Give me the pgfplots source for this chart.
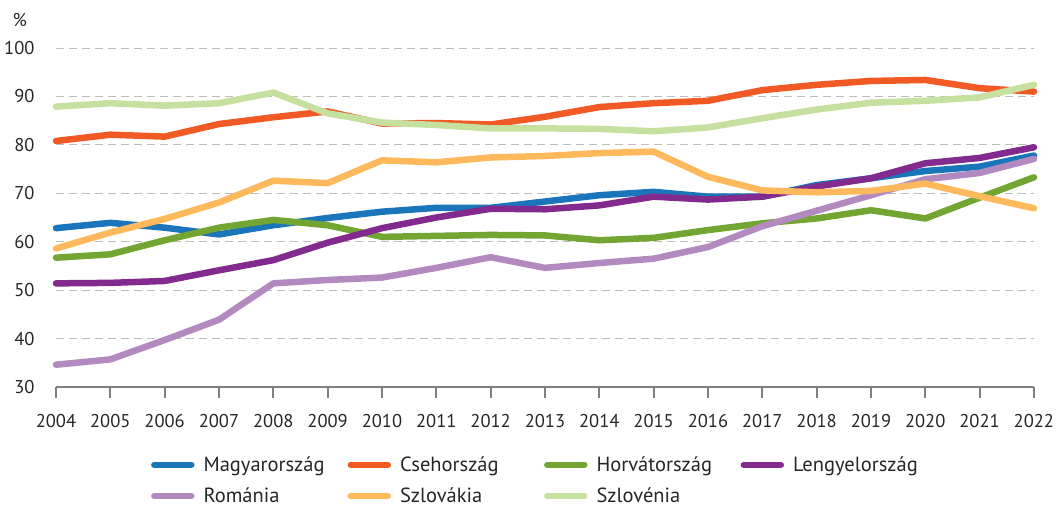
\documentclass[border=0pt]{standalone}
\usepackage{pgfplots}
\pgfplotsset{compat=1.18}
\usepackage{fontspec}
\setmainfont{PT Sans}
\definecolor{cHU}{HTML}{1A75BB}
\definecolor{cCZ}{HTML}{F15A24}
\definecolor{cHR}{HTML}{72A532}
\definecolor{cPL}{HTML}{822A8E}
\definecolor{cRO}{HTML}{B38AC0}
\definecolor{cSK}{HTML}{FDB95B}
\definecolor{cSI}{HTML}{C6E0A0}
\definecolor{gridc}{HTML}{BDBDBD}
\definecolor{axc}{HTML}{808080}
\newcommand{\lgd}[1]{\makebox[149pt][l]{\hspace{7pt}\fontsize{20.5}{24}\selectfont #1}}
\begin{document}
\begin{tikzpicture}
\path[use as bounding box] (-56pt,-122pt) rectangle (1002pt,387pt);
\begin{axis}[
  scale only axis, width=978pt, height=339pt,
  xmin=2004, xmax=2022, ymin=30, ymax=100,
  xtick={2004,...,2022}, ytick={30,40,...,100},
  /pgf/number format/1000 sep={},
  /pgf/number format/assume math mode=true,
  axis x line*=bottom, axis y line*=left,
  y axis line style={draw=none},
  x axis line style={draw=axc, line width=2pt},
  xtick style={draw=axc, line width=2pt},
  ytick style={draw=none},
  tick align=outside, major tick length=11pt,
  ymajorgrids, grid style={draw=gridc, line width=1pt, dash pattern=on 8pt off 5pt},
  tick label style={font=\fontsize{18.5}{22}\selectfont, text=black!85},
  yticklabel style={xshift=-7pt},
  xticklabel style={yshift=-13pt},
  every axis plot/.append style={line width=6.5pt, line join=round, line cap=round},
  legend columns=4,
  legend cell align=left,
  legend style={draw=none, at={(axis description cs:0.097,-0.205)}, anchor=north west,
    font=\fontsize{20.5}{24}\selectfont, text=black!85, row sep=15pt, inner sep=0pt,
    nodes={inner xsep=2pt, inner ysep=0pt}},
  legend image code/.code={\draw[#1, line width=6.5pt, line cap=round] (3.5pt,0pt) -- (40.5pt,0pt);},
  clip=false,
]
\addplot[cHU] coordinates {(2004,62.8)(2005,63.9)(2006,62.9)(2007,61.5)(2008,63.4)(2009,64.9)(2010,66.2)(2011,67.0)(2012,67.0)(2013,68.3)(2014,69.6)(2015,70.3)(2016,69.3)(2017,69.3)(2018,71.7)(2019,73.1)(2020,74.6)(2021,75.5)(2022,77.8)};
\addlegendentry{\lgd{Magyarország}}
\addplot[cCZ] coordinates {(2004,80.8)(2005,82.1)(2006,81.7)(2007,84.3)(2008,85.7)(2009,86.9)(2010,84.4)(2011,84.5)(2012,84.2)(2013,85.8)(2014,87.8)(2015,88.6)(2016,89.1)(2017,91.3)(2018,92.4)(2019,93.2)(2020,93.4)(2021,91.7)(2022,91.0)};
\addlegendentry{\lgd{Csehország}}
\addplot[cHR] coordinates {(2004,56.7)(2005,57.4)(2006,60.3)(2007,62.9)(2008,64.5)(2009,63.4)(2010,61.0)(2011,61.2)(2012,61.4)(2013,61.3)(2014,60.3)(2015,60.8)(2016,62.4)(2017,63.8)(2018,64.8)(2019,66.5)(2020,64.8)(2021,69.1)(2022,73.3)};
\addlegendentry{\lgd{Horvátország}}
\addplot[cPL] coordinates {(2004,51.4)(2005,51.5)(2006,51.9)(2007,54.1)(2008,56.2)(2009,59.8)(2010,62.8)(2011,65.0)(2012,66.8)(2013,66.7)(2014,67.5)(2015,69.3)(2016,68.7)(2017,69.3)(2018,71.4)(2019,73.1)(2020,76.2)(2021,77.3)(2022,79.5)};
\addlegendentry{\lgd{Lengyelország}}
\addplot[cRO] coordinates {(2004,34.6)(2005,35.7)(2006,39.7)(2007,43.9)(2008,51.4)(2009,52.1)(2010,52.6)(2011,54.6)(2012,56.8)(2013,54.6)(2014,55.6)(2015,56.5)(2016,58.9)(2017,63.2)(2018,66.4)(2019,69.6)(2020,72.9)(2021,74.2)(2022,77.1)};
\addlegendentry{\lgd{Románia}}
\addplot[cSK] coordinates {(2004,58.6)(2005,61.9)(2006,64.7)(2007,68.1)(2008,72.6)(2009,72.1)(2010,76.8)(2011,76.4)(2012,77.4)(2013,77.7)(2014,78.3)(2015,78.6)(2016,73.4)(2017,70.6)(2018,70.2)(2019,70.5)(2020,72.0)(2021,69.4)(2022,66.9)};
\addlegendentry{\lgd{Szlovákia}}
\addplot[cSI] coordinates {(2004,87.9)(2005,88.6)(2006,88.1)(2007,88.6)(2008,90.8)(2009,86.5)(2010,84.6)(2011,84.1)(2012,83.4)(2013,83.4)(2014,83.3)(2015,82.8)(2016,83.6)(2017,85.5)(2018,87.3)(2019,88.7)(2020,89.1)(2021,89.8)(2022,92.4)};
\addlegendentry{\lgd{Szlovénia}}
\node[font=\fontsize{18.5}{22}\selectfont, text=black!85] at (axis description cs:-0.037,1.083) {\%};
\end{axis}
\end{tikzpicture}
\end{document}
